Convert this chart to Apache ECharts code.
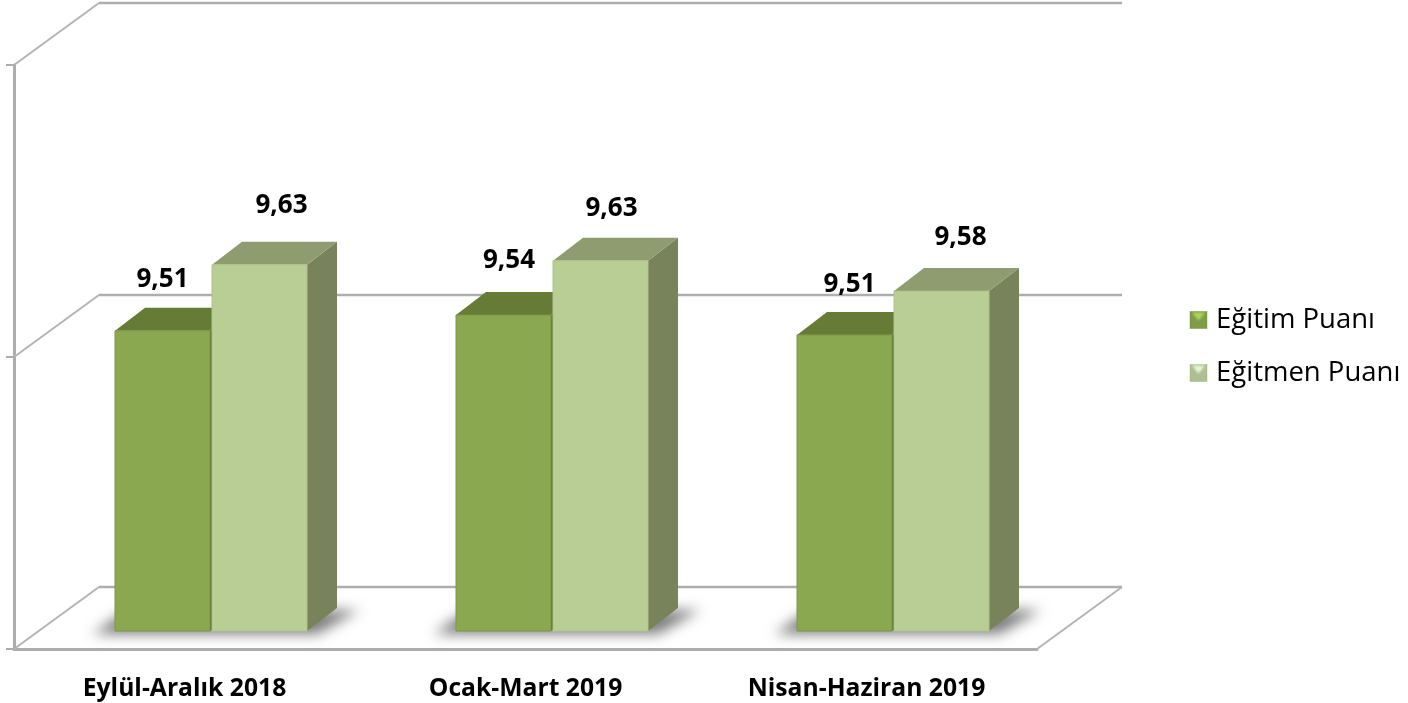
<!DOCTYPE html>
<html>
<head>
<meta charset="utf-8">
<title>Puan</title>
<script src="https://cdn.jsdelivr.net/npm/echarts@6/dist/echarts.min.js"></script>
<style>
    html, body { margin: 0; padding: 0; background: #fff; }
    #main { width: 1408px; height: 703px; }
</style>
</head>
<body>
<div id="main"></div>
<script>
    var categories = ['Eylül-Aralık 2018', 'Ocak-Mart 2019', 'Nisan-Haziran 2019'];
    var egitimPuani = [9.514, 9.541, 9.507];
    var egitmenPuani = [9.627, 9.634, 9.582];
    var yTicks = [9, 9.5, 10];

    // depth of the fake 3d box and of the back wall, in px
    var wallDx = 85, wallDy = -62;
    var boxDx = 30, boxDy = -23, floorLift = 18;
    var barW = 95, barGap = 2, groupLeft = -69.5;
    // the labels were moved by hand in the original chart
    var labelNudge = [
        [[0, -51], [5.5, -54], [5, -50]],
        [[22, -59], [11, -52], [19, -54]]
    ];
    var fontName = 'Open Sans';

    function marker(edge, mid, glow) {
        var svg = "<svg xmlns='http://www.w3.org/2000/svg' width='19' height='19'>" +
            "<filter id='b'><feGaussianBlur stdDeviation='0.9'/></filter>" +
            "<rect x='1' y='1' width='17' height='17' fill='" + mid + "' stroke='" + edge + "' stroke-opacity='.4'/>" +
            "<polygon points='3,2 16,2 9.5,10' fill='" + glow + "' filter='url(#b)'/></svg>";
        return 'image://data:image/svg+xml,' + encodeURIComponent(svg);
    }

    function poly(points, fill) {
        return { type: 'polygon', shape: { points: points }, style: { fill: fill } };
    }

    function renderBar(slot, front, edge, top, side) {
        return function (params, api) {
            var p = api.coord([api.value(0), api.value(1)]);
            var base = api.coord([api.value(0), yTicks[0]])[1] - floorLift;
            var y = p[1] - floorLift;
            var x = p[0] + groupLeft + slot * (barW + barGap);
            var r = x + barW;
            var nudge = labelNudge[slot][params.dataIndex];
            return {
                type: 'group',
                children: [
                    poly([[r, y], [r + boxDx, y + boxDy], [r + boxDx, base + boxDy], [r, base]], side),
                    poly([[x, y], [x + boxDx, y + boxDy], [r + boxDx, y + boxDy], [r, y]], top),
                    {
                        type: 'rect',
                        shape: { x: x, y: y, width: barW, height: base - y },
                        style: { fill: front, stroke: edge, lineWidth: 1 }
                    },
                    {
                        type: 'text',
                        style: {
                            x: x + barW / 2 + nudge[0], y: y + nudge[1],
                            text: api.value(1).toFixed(2).replace('.', ','),
                            fontFamily: fontName, fontSize: 26, fontWeight: 'bold',
                            fill: '#000', textAlign: 'center', textVerticalAlign: 'middle'
                        }
                    }
                ]
            };
        };
    }

    // back wall lines and the floor edge, one item per y tick
    function renderWall(params, api) {
        var v = api.value(0);
        var a = api.coord([0, v]);
        var band = api.size([1, 0])[0];
        var left = a[0] - band / 2;
        var right = left + band * categories.length;
        var back = { stroke: '#aeaeae', lineWidth: 2.5 };
        var diag = { stroke: '#b4b4b4', lineWidth: 2 };
        var kids = [
            { type: 'line', shape: { x1: left, y1: a[1], x2: left + wallDx, y2: a[1] + wallDy }, style: diag },
            { type: 'line', shape: { x1: left + wallDx, y1: a[1] + wallDy, x2: right + wallDx, y2: a[1] + wallDy }, style: back }
        ];
        if (v === yTicks[0]) {
            kids.push({ type: 'line', shape: { x1: right, y1: a[1], x2: right + wallDx, y2: a[1] + wallDy }, style: diag });
        }
        return { type: 'group', children: kids };
    }

    // soft shadow on the floor: the shape sits off canvas, only its blur lands here
    var shadowShift = 3000;
    function renderShadow(params, api) {
        var p = api.coord([api.value(0), yTicks[0]]);
        var base = p[1] - floorLift;
        var x = p[0] + groupLeft;
        var r = x + barW * 2 + barGap;
        var pts = [[x - 22, base + 3], [x + 8, base - 18], [r + boxDx + 22, base + boxDy + 2], [r + 10, base + 3]];
        return {
            type: 'polygon',
            shape: { points: pts.map(function (q) { return [q[0] - shadowShift, q[1]]; }) },
            style: {
                fill: '#000', shadowBlur: 13, shadowOffsetX: shadowShift,
                shadowColor: 'rgba(90,90,90,0.8)'
            }
        };
    }

    var chart = echarts.init(document.getElementById('main'));
    chart.setOption({
        animation: false,
        grid: { left: 14, right: 371, top: 65, bottom: 54 },
        legend: {
            left: 1184, top: 301, orient: 'vertical', itemWidth: 19, itemHeight: 19, itemGap: 25,
            selectedMode: false,
            textStyle: { fontFamily: fontName, fontSize: 27.5, color: '#000', padding: [4, 0, 0, 3] },
            data: [
                { name: 'Eğitim Puanı', icon: marker('#6f8a3c', '#7f9d45', '#a9d65e') },
                { name: 'Eğitmen Puanı', icon: marker('#9cb07c', '#aebf92', '#e6f5cf') }
            ]
        },
        xAxis: {
            type: 'category',
            data: categories,
            axisLine: { lineStyle: { color: '#adadad', width: 3 } },
            axisTick: { length: 9, lineStyle: { color: '#adadad', width: 2 } },
            axisLabel: { margin: 27, fontFamily: fontName, fontSize: 24.7, fontWeight: 'bold', color: '#000' }
        },
        yAxis: {
            type: 'value', min: 9, max: 10, interval: 0.5,
            axisLine: { show: true, lineStyle: { color: '#adadad', width: 3 } },
            axisTick: { show: true, length: 8, lineStyle: { color: '#adadad', width: 2 } },
            axisLabel: { show: false },
            splitLine: { show: false }
        },
        series: [
            {
                type: 'custom', name: 'wall', silent: true, z: 1,
                data: yTicks.map(function (v) { return [v]; }),
                encode: { y: 0 }, renderItem: renderWall
            },
            {
                type: 'custom', name: 'shadow', silent: true, z: 2,
                data: categories.map(function (c, i) { return [i]; }),
                encode: { x: 0 }, renderItem: renderShadow
            },
            {
                type: 'custom', name: 'Eğitim Puanı', z: 3,
                data: egitimPuani.map(function (v, i) { return [i, v]; }),
                encode: { x: 0, y: 1 },
                renderItem: renderBar(0, '#8aa84f', '#7c9746', '#667b36', '#566a2f')
            },
            {
                type: 'custom', name: 'Eğitmen Puanı', z: 4,
                data: egitmenPuani.map(function (v, i) { return [i, v]; }),
                encode: { x: 0, y: 1 },
                renderItem: renderBar(1, '#b8ce95', '#aec48b', '#8e9c70', '#78835c')
            }
        ]
    });
</script>
</body>
</html>
